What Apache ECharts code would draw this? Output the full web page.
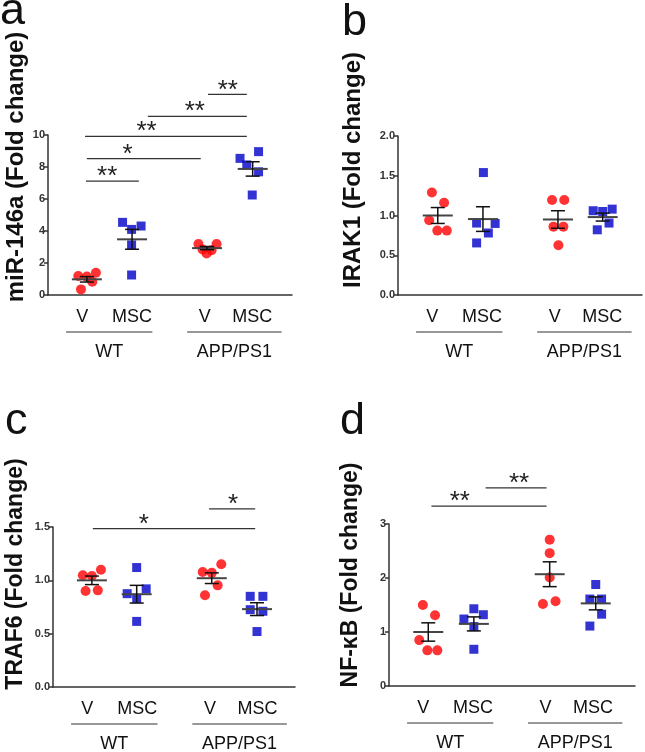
<!DOCTYPE html>
<html><head><meta charset="utf-8">
<script src="https://cdn.jsdelivr.net/npm/echarts@6/dist/echarts.min.js"></script>
<style>html,body{margin:0;padding:0;background:#fff}#c{width:645px;height:752px}</style>
</head><body><div id="c"></div><script>
// ---- shared x-axis categories ----
const CAT_LABELS = ['V', 'MSC', 'V', 'MSC'];
const CAT_LABEL_X = [0.76, 1.86, 3.47, 4.52];
const GROUP_LABELS = ['WT', 'APP/PS1'];
const GROUP_FROM = [0.40, 3.08];
const GROUP_TO = [2.31, 5.17];

// ---- panel a: miR-146a ----
const A_WT_V = [[0.67,1.19],[0.86,1.15],[1.06,1.39],[0.98,0.83],[0.73,0.35]];
const A_WT_MSC = [[1.65,4.54],[2.06,4.31],[1.85,4.10],[1.85,3.13],[1.85,1.25]];
const A_APP_V = [[3.33,3.19],[3.73,3.19],[3.51,2.60],[3.42,2.85],[3.62,2.80]];
const A_APP_MSC = [[4.25,8.54],[4.66,8.96],[4.40,8.13],[4.66,7.70],[4.52,6.25]];
const A_CX = [0.86, 1.86, 3.52, 4.53];
const A_MEAN = [0.98, 3.48, 2.93, 7.88];
const A_SEM = [0.17, 0.62, 0.10, 0.45];
const A_SIG = [[0.84,2.01,7.12,1.31,'**'],[0.86,3.38,8.52,1.76,'*'],[0.82,4.40,9.92,2.18,'**'],[2.21,4.40,11.17,3.25,'**'],[3.54,4.40,12.54,3.98,'**']];

// ---- panel b: IRAK1 ----
const B_WT_V = [[0.75,1.29],[1.02,1.16],[0.69,0.94],[0.87,0.81],[1.08,0.81]];
const B_WT_MSC = [[1.89,1.54],[1.74,0.905],[2.15,0.90],[2.00,0.78],[1.74,0.655]];
const B_APP_V = [[3.41,1.196],[3.68,1.196],[3.44,0.86],[3.66,0.86],[3.55,0.625]];
const B_APP_MSC = [[4.32,1.06],[4.53,1.05],[4.74,1.08],[4.67,0.905],[4.41,0.82]];
const B_CX = [0.88, 1.88, 3.54, 4.53];
const B_MEAN = [1.0, 0.955, 0.95, 0.98];
const B_SEM = [0.10, 0.155, 0.11, 0.05];
const B_SIG = [];

// ---- panel c: TRAF6 ----
const C_WT_V = [[0.66,1.047],[0.86,1.04],[1.06,1.10],[0.72,0.90],[0.99,0.906]];
const C_WT_MSC = [[1.85,1.12],[2.06,0.92],[1.64,0.875],[1.85,0.83],[1.85,0.615]];
const C_APP_V = [[3.31,1.078],[3.51,1.07],[3.72,1.15],[3.64,0.953],[3.36,0.86]];
const C_APP_MSC = [[4.36,0.85],[4.64,0.85],[4.36,0.725],[4.64,0.71],[4.51,0.52]];
const C_CX = [0.86, 1.85, 3.51, 4.51];
const C_MEAN = [1.0, 0.87, 1.02, 0.73];
const C_SEM = [0.04, 0.083, 0.05, 0.06];
const C_SIG = [[0.88,4.47,1.485,2.01,'*'],[3.45,4.47,1.67,3.98,'*']];

// ---- panel d: NF-κB ----
const D_WT_V = [[0.75,1.50],[1.02,1.31],[0.67,0.85],[0.85,0.66],[1.07,0.66]];
const D_WT_MSC = [[1.66,1.24],[1.88,1.43],[2.09,1.32],[1.88,1.10],[1.88,0.68]];
const D_APP_V = [[3.56,2.71],[3.56,2.46],[3.56,2.01],[3.41,1.52],[3.69,1.57]];
const D_APP_MSC = [[4.58,1.88],[4.45,1.61],[4.71,1.61],[4.71,1.33],[4.45,1.11]];
const D_CX = [0.87, 1.88, 3.56, 4.58];
const D_MEAN = [1.0, 1.15, 2.07, 1.53];
const D_SEM = [0.17, 0.13, 0.23, 0.12];
const D_SIG = [[0.94,3.49,3.33,1.57,'**'],[2.14,3.49,3.67,2.88,'**']];

const FONT = '"Liberation Sans", Arial, sans-serif';
const RED = '#ff0000', BLUE = '#0000c8', AX = '#333333';

const PANELS = [
  {letter:'a', title:'miR-146a (Fold change)', grid:{left:48,top:135,width:244,height:160}, xMax:5.4, yMax:10, yInt:2, dec:0,
   tx:16, ty:167, ts:24, lx:0, ly:12,
   v:[A_WT_V, A_APP_V], m:[A_WT_MSC, A_APP_MSC], cx:A_CX, mean:A_MEAN, sem:A_SEM, sig:A_SIG},
  {letter:'b', title:'IRAK1 (Fold change)', grid:{left:398,top:136,width:244,height:159}, xMax:5.4, yMax:2, yInt:0.5, dec:1,
   tx:353, ty:170, ts:24, lx:342, ly:23,
   v:[B_WT_V, B_APP_V], m:[B_WT_MSC, B_APP_MSC], cx:B_CX, mean:B_MEAN, sem:B_SEM, sig:B_SIG},
  {letter:'c', title:'TRAF6 (Fold change)', grid:{left:53,top:527,width:242,height:160}, xMax:5.35, yMax:1.5, yInt:0.5, dec:1,
   tx:16, ty:574, ts:23, lx:5, ly:422,
   v:[C_WT_V, C_APP_V], m:[C_WT_MSC, C_APP_MSC], cx:C_CX, mean:C_MEAN, sem:C_SEM, sig:C_SIG},
  {letter:'d', title:'NF-κB (Fold change)', grid:{left:389,top:524,width:246,height:162}, xMax:5.45, yMax:3, yInt:1, dec:0,
   tx:351, ty:575, ts:23, lx:340, ly:422,
   v:[D_WT_V, D_APP_V], m:[D_WT_MSC, D_APP_MSC], cx:D_CX, mean:D_MEAN, sem:D_SEM, sig:D_SIG}
];

const grids = [], xAxes = [], yAxes = [], series = [], graphics = [];

PANELS.forEach((p, i) => {
  grids.push(p.grid);
  xAxes.push({type:'value', gridIndex:i, min:0, max:p.xMax,
    axisLine:{show:true, onZero:false, lineStyle:{color:AX, width:1.5}},
    axisTick:{show:false}, axisLabel:{show:false}, splitLine:{show:false}});
  yAxes.push({type:'value', gridIndex:i, min:0, max:p.yMax, interval:p.yInt,
    axisLine:{show:true, lineStyle:{color:AX, width:1.5}},
    axisTick:{show:true, length:4, lineStyle:{color:AX, width:1.5}},
    axisLabel:{fontSize:11, fontWeight:'bold', color:'#333', margin:3, fontFamily:FONT,
      formatter: v => v.toFixed(p.dec)},
    splitLine:{show:false}});

  series.push({type:'scatter', xAxisIndex:i, yAxisIndex:i, data:[].concat(...p.v),
    symbol:'circle', symbolSize:10, itemStyle:{color:RED}, z:2, silent:true});
  series.push({type:'scatter', xAxisIndex:i, yAxisIndex:i, data:[].concat(...p.m),
    symbol:'rect', symbolSize:9, itemStyle:{color:BLUE}, z:2, silent:true});

  // mean + SEM
  series.push({type:'custom', xAxisIndex:i, yAxisIndex:i, z:5, silent:true,
    data: p.cx.map((x, k) => [x, p.mean[k], p.sem[k]]),
    renderItem: (params, api) => {
      const x = api.value(0), m = api.value(1), s = api.value(2);
      const pm = api.coord([x, m]), pt = api.coord([x, m + s]), pb = api.coord([x, m - s]);
      const st = {stroke:'#111', lineWidth:1.5};
      return {type:'group', children:[
        {type:'line', shape:{x1:pm[0]-15, y1:pm[1], x2:pm[0]+15, y2:pm[1]}, style:{stroke:'#444', lineWidth:2}},
        {type:'line', shape:{x1:pt[0], y1:pt[1], x2:pb[0], y2:pb[1]}, style:st},
        {type:'line', shape:{x1:pt[0]-7, y1:pt[1], x2:pt[0]+7, y2:pt[1]}, style:st},
        {type:'line', shape:{x1:pb[0]-7, y1:pb[1], x2:pb[0]+7, y2:pb[1]}, style:st}
      ]};
    }});

  // significance brackets
  if (p.sig.length) {
    series.push({type:'custom', xAxisIndex:i, yAxisIndex:i, z:5, silent:true, clip:false,
      data: p.sig.map(s => [s[0], s[2], s[1], s[3]]),
      renderItem: (params, api) => {
        const s = p.sig[params.dataIndex];
        const a = api.coord([s[0], s[2]]), b = api.coord([s[1], s[2]]), t = api.coord([s[3], s[2]]);
        return {type:'group', children:[
          {type:'line', shape:{x1:a[0], y1:a[1], x2:b[0], y2:b[1]}, style:{stroke:'#333', lineWidth:1.3}},
          {type:'text', style:{text:s[4], x:t[0], y:t[1] - 4, fill:'#222', font:'26px ' + FONT,
            align:'center', verticalAlign:'middle', textAlign:'center', textVerticalAlign:'middle'}}
        ]};
      }});
  }

  // category labels
  series.push({type:'custom', xAxisIndex:i, yAxisIndex:i, z:5, silent:true, clip:false,
    data: CAT_LABEL_X.map(x => [x, 0]),
    renderItem: (params, api) => {
      const c = api.coord([api.value(0), 0]);
      return {type:'text', style:{text:CAT_LABELS[params.dataIndex], x:c[0], y:c[1] + 22, fill:'#111',
        font:'18px ' + FONT, align:'center', verticalAlign:'middle', textAlign:'center', textVerticalAlign:'middle'}};
    }});
  // group underlines + labels
  series.push({type:'custom', xAxisIndex:i, yAxisIndex:i, z:5, silent:true, clip:false,
    data: GROUP_FROM.map((x, k) => [x, 0, GROUP_TO[k]]),
    renderItem: (params, api) => {
      const a = api.coord([api.value(0), 0]), b = api.coord([api.value(2), 0]);
      return {type:'group', children:[
        {type:'line', shape:{x1:a[0], y1:a[1] + 37, x2:b[0], y2:b[1] + 37}, style:{stroke:'#333', lineWidth:1.2}},
        {type:'text', style:{text:GROUP_LABELS[params.dataIndex], x:(a[0] + b[0]) / 2, y:a[1] + 57, fill:'#111',
          font:'18px ' + FONT, align:'center', verticalAlign:'middle', textAlign:'center', textVerticalAlign:'middle'}}
      ]};
    }});

  graphics.push({type:'text', x:p.tx, y:p.ty, rotation:Math.PI / 2, silent:true,
    style:{text:p.title, font:'bold ' + p.ts + 'px ' + FONT, fill:'#111',
      align:'center', verticalAlign:'middle', textAlign:'center', textVerticalAlign:'middle'}});
  graphics.push({type:'text', x:p.lx, y:p.ly, silent:true,
    style:{text:p.letter, font:'45px ' + FONT, fill:'#111',
      align:'left', verticalAlign:'middle', textAlign:'left', textVerticalAlign:'middle'}});
});

const chart = echarts.init(document.getElementById('c'), null, {renderer:'canvas'});
chart.setOption({
  animation:false, backgroundColor:'#ffffff',
  grid:grids, xAxis:xAxes, yAxis:yAxes, series:series, graphic:graphics
});
</script></body></html>
